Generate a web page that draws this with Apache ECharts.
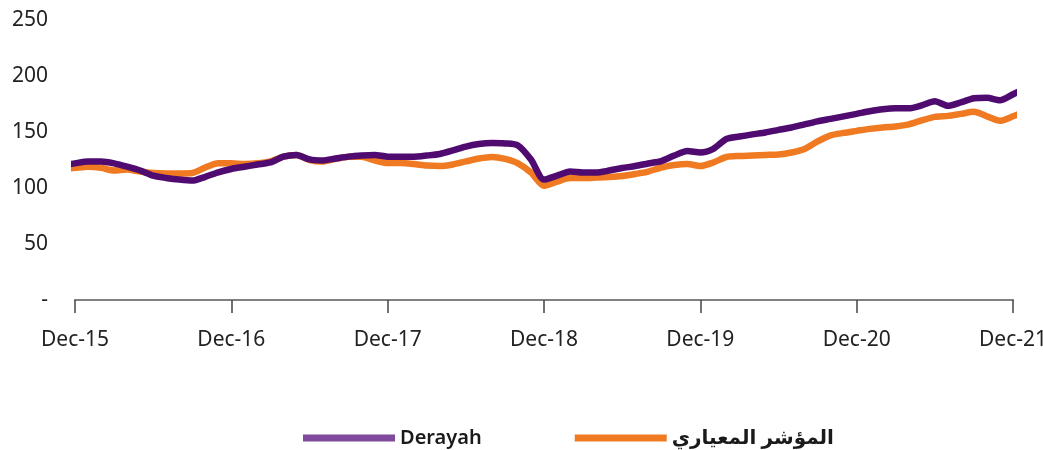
<!DOCTYPE html>
<html>
<head>
<meta charset="utf-8">
<script src="https://cdn.jsdelivr.net/npm/echarts@6/dist/echarts.min.js"></script>
<style>
  html, body { margin: 0; padding: 0; background: #fff; }
  #chart { width: 1043px; height: 450px; }
</style>
</head>
<body>
<div id="chart"></div>
<script>
// months counted from Dec-15 (0) to Dec-21 (72)
const months = [-1, 0, 1, 2, 3, 4, 5, 6, 7, 8, 9, 10, 11, 12, 13, 14, 15, 16, 17, 18, 19,
  20, 21, 22, 23, 24, 25, 26, 27, 28, 29, 30, 31, 32, 33, 34, 35, 36, 37, 38, 39, 40,
  41, 42, 43, 44, 45, 46, 47, 48, 49, 50, 51, 52, 53, 54, 55, 56, 57, 58, 59, 60, 61,
  62, 63, 64, 65, 66, 67, 68, 69, 70, 71, 72, 73]

const derayah = [120, 122, 123.6, 123.6, 122, 119, 115.6, 111, 109, 107.5, 106.6, 110, 114,
  117, 119, 121, 122.8, 128, 129.5, 125.5, 124.6, 126.3, 128, 129, 129.5, 128,
  128, 128, 129, 130.4, 133.5, 137, 139.3, 140.2, 139.8, 138, 125.4, 107.5, 111, 114.7,
  113.8, 113.8, 115.6, 117.8, 119.6, 121.9, 124, 129, 133, 131.7, 135, 143.8, 146,
  147.9, 149.6, 151.9, 154, 156.8, 159.5, 161.7, 164, 166.2, 168.5, 170.3, 171.1,
  171.1, 173.8, 177.4, 173.4, 176.5, 180.1, 180.6, 178.3, 183.7, 189.5]

const benchmark = [117, 118, 119, 118, 115.6, 116.5, 114.7, 113.4, 113, 113, 113.4, 118.3, 122,
  122, 121.5, 122, 123.7, 128, 129.5, 125, 123.7, 126, 128, 128, 124.6, 122.3,
  122.3, 121.4, 120, 119.6, 121, 123.7, 126.3, 127.7, 126, 122, 113.8, 102, 105.7, 108.9,
  108.9, 109.3, 109.8, 110.7, 112.5, 114.7, 118.3, 120.5, 121.4, 119.6, 122.8, 127.7, 128.6,
  129, 129.5, 129.9, 131.7, 134.9, 141.6, 147, 149.2, 151, 152.8, 154.1, 155,
  156.8, 160.4, 163.5, 164.4, 166.2, 168, 164, 160, 164, 168.5]

const xTickLabels = ['Dec-15', 'Dec-16', 'Dec-17', 'Dec-18', 'Dec-19', 'Dec-20', 'Dec-21']
const yTickLabels = ['-', '50', '100', '150', '200', '250']

const NAME_D = 'Derayah'
const NAME_B = 'المؤشر المعياري'
const font = '"Noto Sans", "DejaVu Sans", sans-serif'

const chart = echarts.init(document.getElementById('chart'))

chart.setOption({
  animation: false,
  grid: { left: 75, right: 30, top: 20, bottom: 150, outerBoundsMode: 'none', containLabel: false },
  legend: {
    left: 298,
    top: 423,
    icon: 'rect',
    itemWidth: 92,
    itemHeight: 7,
    itemGap: 93,
    textStyle: { fontSize: 20, fontWeight: 600, color: '#1a1a1a', fontFamily: font },
    data: [
      { name: NAME_D, itemStyle: { color: '#7f4a9c' } },
      { name: NAME_B, itemStyle: { color: '#f07a22' } }
    ]
  },
  xAxis: {
    type: 'value',
    min: 0,
    max: 72,
    interval: 12,
    splitLine: { show: false },
    axisLine: { show: true, lineStyle: { color: '#808080', width: 2 } },
    axisTick: { show: true, length: 13, lineStyle: { color: '#444', width: 1.5 } },
    axisLabel: {
      formatter: v => xTickLabels[v / 12],
      fontSize: 21,
      margin: 30,
      color: '#222',
      fontFamily: font
    }
  },
  yAxis: {
    type: 'value',
    min: 0,
    max: 250,
    interval: 50,
    splitLine: { show: false },
    axisLine: { show: false },
    axisTick: { show: false },
    axisLabel: {
      formatter: v => yTickLabels[v / 50],
      fontSize: 21,
      margin: 27,
      color: '#222',
      fontFamily: font
    }
  },
  series: [{
    name: NAME_B,
    type: 'line',
    data: months.map((m, i) => [m, benchmark[i]]),
    symbol: 'none',
    smooth: 0.25,
    clip: false,
    z: 2,
    itemStyle: { color: '#f07a22' },
    lineStyle: { color: '#f07a22', width: 6.5, cap: 'round', join: 'round' }
  }, {
    name: NAME_D,
    type: 'line',
    data: months.map((m, i) => [m, derayah[i]]),
    symbol: 'none',
    smooth: 0.25,
    clip: false,
    z: 3,
    itemStyle: { color: '#4f0b6f' },
    lineStyle: { color: '#4f0b6f', width: 6.5, cap: 'round', join: 'round' }
  }]
})
</script>
</body>
</html>
